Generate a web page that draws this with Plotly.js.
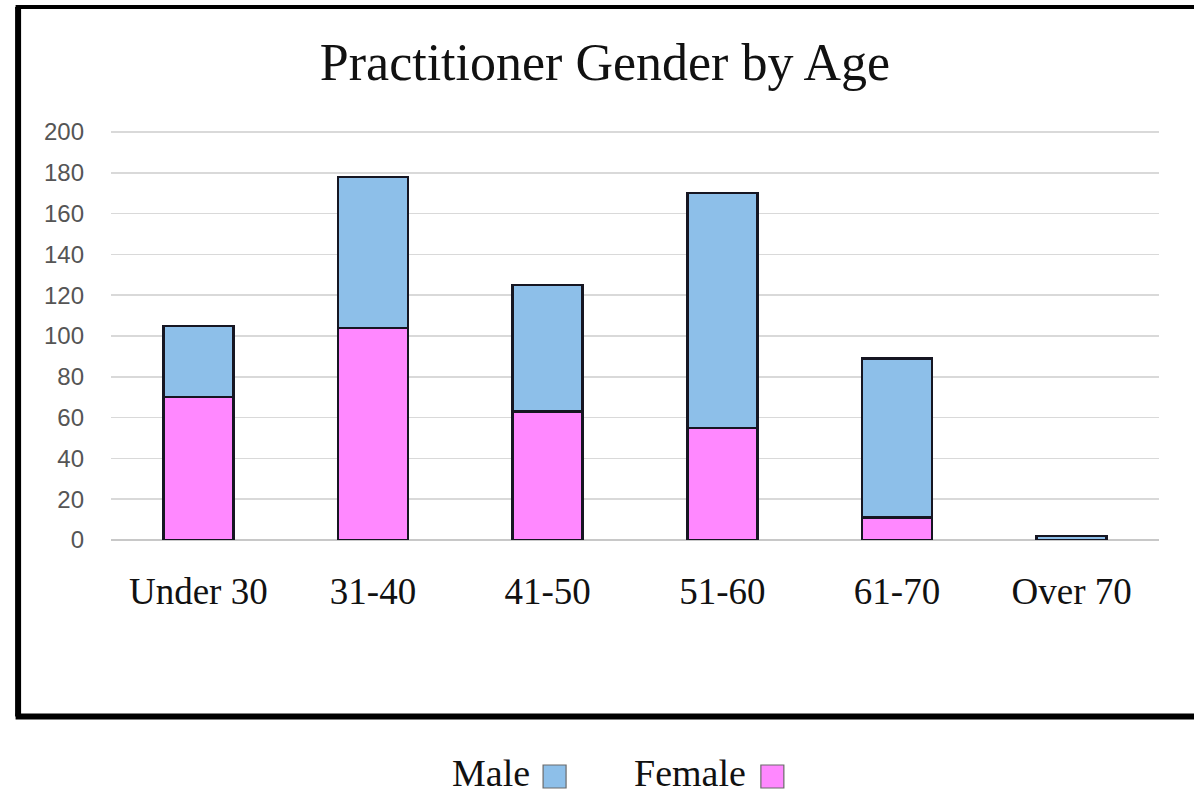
<!DOCTYPE html>
<html>
<head>
<meta charset="utf-8">
<script src="https://cdn.plot.ly/plotly-3.0.1.min.js"></script>
<style>
  html, body { margin: 0; padding: 0; background: #ffffff; }
  #chart { width: 1194px; height: 795px; }
</style>
</head>
<body>
<div id="chart"></div>
<script>
// Practitioner counts by age band, split by gender
const ageGroups = ["Under 30", "31-40", "41-50", "51-60", "61-70", "Over 70"];
const femaleCounts = [70, 104, 63, 55, 11, 0];
const maleCounts = [35, 74, 62, 115, 78, 2];
const yTicks = [0, 20, 40, 60, 80, 100, 120, 140, 160, 180, 200];
const seriesNames = ["Male", "Female"];

const W = 1194, H = 795;
const yMax = 201; // a little headroom so the 200 gridline is drawn
const pxPerUnit = 408 / 200;
const margin = { l: 110.5, r: 34.5, t: 132 - (yMax - 200) * pxPerUnit, b: 255 };
const plotW = W - margin.l - margin.r;
const plotH = H - margin.t - margin.b;

// pixel -> paper helpers for the frame and the legend keys
const px = x => (x - margin.l) / plotW;
const py = y => (H - margin.b - y) / plotH;

const maleColor = "#8dbfe9";
const femaleColor = "#ff88ff";
const barEdge = { color: "#161622", width: 2.5 };

const traces = [
  {
    type: "bar",
    name: seriesNames[1],
    x: ageGroups,
    y: femaleCounts,
    marker: { color: femaleColor, line: barEdge },
    hoverinfo: "x+y+name"
  },
  {
    type: "bar",
    name: seriesNames[0],
    x: ageGroups,
    y: maleCounts,
    marker: { color: maleColor, line: barEdge },
    hoverinfo: "x+y+name"
  }
];

const serif = "Liberation Serif, Times New Roman, serif";

const layout = {
  width: W,
  height: H,
  margin: margin,
  paper_bgcolor: "#ffffff",
  plot_bgcolor: "#ffffff",
  barmode: "stack",
  bargap: 0.6,
  showlegend: false,
  title: {
    text: "Practitioner Gender by Age",
    font: { family: serif, size: 52, color: "#111111" },
    x: 605 / W,
    xref: "container",
    xanchor: "center",
    y: 1 - 62 / H,
    yref: "container",
    yanchor: "middle"
  },
  xaxis: {
    type: "category",
    tickfont: { family: serif, size: 37, color: "#111111" },
    ticks: "",
    ticklabelstandoff: 26,
    showline: false,
    showgrid: false,
    zeroline: false,
    fixedrange: true
  },
  yaxis: {
    range: [0, yMax],
    tickvals: yTicks,
    ticktext: yTicks.map(String),
    tickfont: { family: "Liberation Sans, Arial, sans-serif", size: 24, color: "#555555" },
    ticks: "",
    ticklabelstandoff: 26,
    showgrid: true,
    gridcolor: "#d9d9d9",
    gridwidth: 1.5,
    zeroline: true,
    zerolinecolor: "#c8c8c8",
    zerolinewidth: 1.5,
    showline: false,
    fixedrange: true
  },
  shapes: [
    // outer frame around the chart area
    { type: "line", xref: "paper", yref: "paper", x0: px(17.5), x1: px(17.5), y0: py(716.5), y1: py(7), line: { color: "#000000", width: 6 } },
    { type: "line", xref: "paper", yref: "paper", x0: px(15), x1: px(1210), y0: py(7), y1: py(7), line: { color: "#000000", width: 4 } },
    { type: "line", xref: "paper", yref: "paper", x0: px(15), x1: px(1210), y0: py(716.5), y1: py(716.5), line: { color: "#000000", width: 6 } },
    // legend keys
    { type: "rect", xref: "paper", yref: "paper", x0: px(543), x1: px(566), y0: py(788), y1: py(765), fillcolor: maleColor, line: { color: "#6a6a6a", width: 1.2 } },
    { type: "rect", xref: "paper", yref: "paper", x0: px(761), x1: px(784), y0: py(788), y1: py(765), fillcolor: femaleColor, line: { color: "#6a6a6a", width: 1.2 } }
  ],
  annotations: [
    { xref: "paper", yref: "paper", x: px(532), y: py(773), xanchor: "right", yanchor: "middle", showarrow: false,
      text: seriesNames[0], font: { family: serif, size: 38, color: "#111111" } },
    { xref: "paper", yref: "paper", x: px(748), y: py(773), xanchor: "right", yanchor: "middle", showarrow: false,
      text: seriesNames[1], font: { family: serif, size: 38, color: "#111111" } }
  ]
};

Plotly.newPlot("chart", traces, layout, { displayModeBar: false, staticPlot: true });
</script>
</body>
</html>
